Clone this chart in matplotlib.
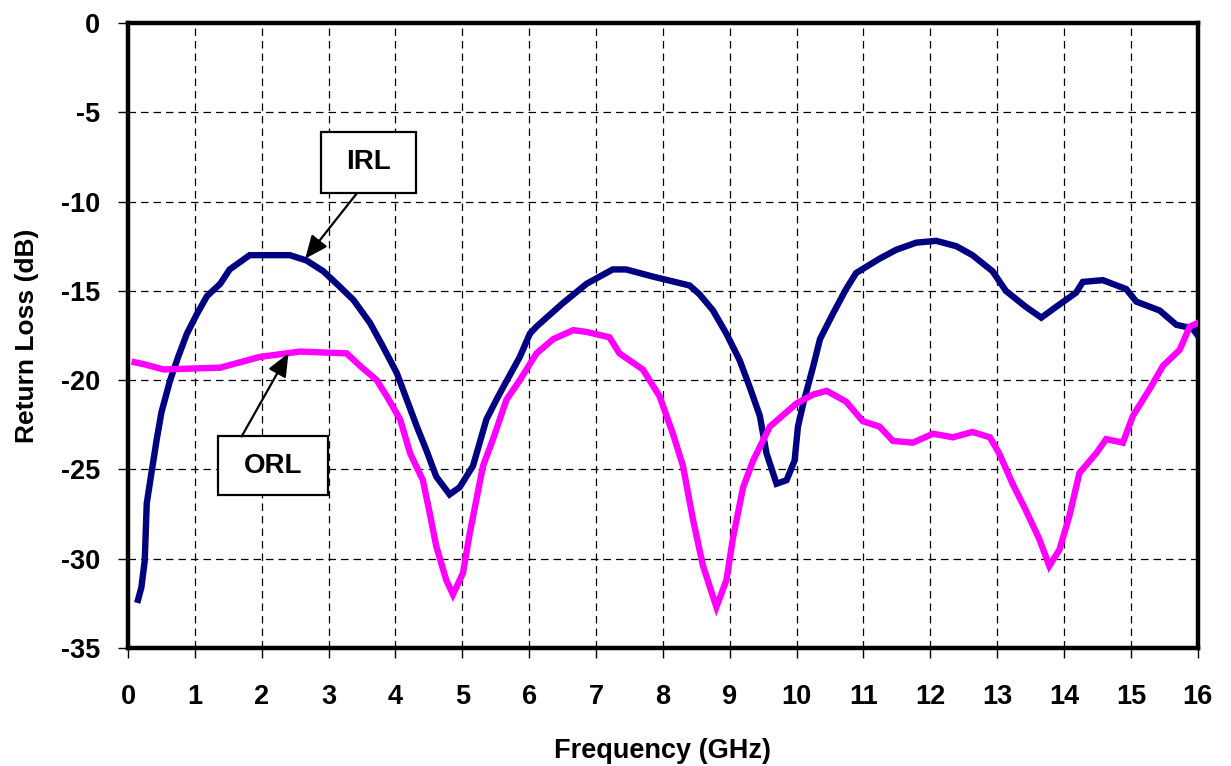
import matplotlib
matplotlib.use("Agg")
import matplotlib.pyplot as plt
from matplotlib.patches import Rectangle

# ---- data ----
irl_freq = [0.15, 0.2, 0.25, 0.28, 0.35, 0.43, 0.5, 0.63, 0.75, 0.88, 1.03, 1.18, 1.38, 1.52,
            1.82, 2.42, 2.67, 2.92, 3.12, 3.37, 3.62, 3.81, 4.02, 4.17, 4.32, 4.46, 4.61,
            4.81, 4.96, 5.16, 5.36, 5.51, 5.61, 5.86, 6.01, 6.11, 6.5, 6.86, 7.25, 7.45,
            7.85, 8.4, 8.55, 8.75, 8.95, 9.15, 9.3, 9.45, 9.55, 9.7, 9.85, 9.97, 10.02,
            10.1, 10.25, 10.35, 10.54, 10.74, 10.89, 11.24, 11.49, 11.79, 12.09, 12.39,
            12.63, 12.93, 13.13, 13.43, 13.66, 13.88, 14.18, 14.28, 14.58, 14.93, 15.08,
            15.43, 15.68, 15.92, 16.0]
irl_db = [-32.3, -31.6, -30.1, -26.9, -25.2, -23.3, -21.8, -20.0, -18.7, -17.4, -16.3, -15.3,
          -14.6, -13.8, -13.0, -13.0, -13.3, -13.9, -14.6, -15.5, -16.8, -18.1, -19.6, -21.1,
          -22.6, -23.9, -25.4, -26.4, -26.0, -24.8, -22.2, -21.1, -20.4, -18.7, -17.4, -17.0,
          -15.7, -14.6, -13.8, -13.8, -14.2, -14.7, -15.2, -16.1, -17.4, -18.9, -20.4, -22.0,
          -24.1, -25.8, -25.6, -24.5, -22.6, -21.3, -19.2, -17.7, -16.3, -14.9, -14.0, -13.2,
          -12.7, -12.3, -12.2, -12.5, -13.0, -13.9, -15.0, -15.9, -16.5, -15.9, -15.1, -14.5,
          -14.4, -14.9, -15.6, -16.1, -16.9, -17.1, -17.5]

orl_freq = [0.1, 0.23, 0.53, 1.38, 1.97, 2.57, 3.27, 3.47, 3.72, 3.87, 4.07, 4.22, 4.41, 4.51,
            4.61, 4.76, 4.86, 5.01, 5.11, 5.21, 5.31, 5.46, 5.66, 5.86, 6.11, 6.36, 6.66,
            6.86, 7.2, 7.35, 7.7, 7.95, 8.15, 8.3, 8.45, 8.6, 8.8, 8.95, 9.05, 9.2, 9.35,
            9.6, 10.0, 10.25, 10.45, 10.74, 10.99, 11.24, 11.44, 11.74, 12.04, 12.34, 12.63,
            12.89, 13.03, 13.23, 13.43, 13.63, 13.78, 13.93, 14.08, 14.23, 14.48, 14.63,
            14.88, 15.03, 15.28, 15.48, 15.73, 15.88, 16.0]
orl_db = [-19.0, -19.1, -19.4, -19.3, -18.7, -18.4, -18.5, -19.2, -20.0, -20.9, -22.2, -24.1,
          -25.6, -27.4, -29.3, -31.2, -32.0, -30.8, -28.6, -26.7, -24.8, -23.3, -21.1, -20.0,
          -18.5, -17.7, -17.2, -17.3, -17.6, -18.5, -19.4, -20.9, -23.0, -24.8, -27.8, -30.4,
          -32.7, -31.2, -28.8, -26.0, -24.5, -22.6, -21.3, -20.8, -20.6, -21.2, -22.3, -22.6,
          -23.4, -23.5, -23.0, -23.2, -22.9, -23.2, -24.1, -25.8, -27.3, -28.9, -30.4, -29.5,
          -27.6, -25.2, -24.1, -23.3, -23.5, -22.0, -20.5, -19.2, -18.3, -17.0, -16.8]

x_ticks = list(range(0, 17))
y_ticks = [0, -5, -10, -15, -20, -25, -30, -35]

FONT = ["Liberation Sans", "DejaVu Sans"]
plt.rcParams['font.family'] = FONT
plt.rcParams['font.weight'] = 'bold'

fig = plt.figure(figsize=(12.31, 7.66), dpi=100)
ax = fig.add_axes([0.104, 0.154, 0.869, 0.816])

ax.plot(irl_freq, irl_db, color="#000080", lw=4.6, solid_joinstyle='miter', zorder=3)
ax.plot(orl_freq, orl_db, color="#FF00FF", lw=4.6, solid_joinstyle='miter', zorder=3)

ax.set_xlim(0, 16)
ax.set_ylim(-35, 0)
ax.set_xticks(x_ticks)
ax.set_yticks(y_ticks)
ax.set_xticklabels([str(t) for t in x_ticks], fontsize=19.5, fontweight='bold')
ax.set_yticklabels([str(t) for t in y_ticks], fontsize=19.5, fontweight='bold')
ax.tick_params(axis='both', direction='out', length=7, width=1, color='black')
ax.tick_params(axis='x', pad=19)
ax.tick_params(axis='y', pad=13)

ax.grid(True, color='black', linestyle=(0, (6, 4)), linewidth=0.9, zorder=1)
ax.set_axisbelow(True)
for s in ax.spines.values():
    s.set_linewidth(3.2)
    s.set_color('black')

ax.set_xlabel("Frequency (GHz)", fontsize=19.5, fontweight='bold', labelpad=20)
ax.set_ylabel("Return Loss (dB)", fontsize=19, fontweight='bold', labelpad=16)

# annotation boxes
ax.add_patch(Rectangle((2.88, -9.5), 1.43, 3.4, facecolor='white', edgecolor='black',
                       lw=1.6, zorder=5))
ax.text(3.595, -7.8, "IRL", ha='center', va='center', fontsize=20, fontweight='bold', zorder=6)
ax.annotate("", xy=(2.65, -13.2), xytext=(3.42, -9.55),
            arrowprops=dict(arrowstyle='-|>,head_length=1.4,head_width=0.6', color='black',
                            lw=1.6, shrinkA=0, shrinkB=0), zorder=6)

ax.add_patch(Rectangle((1.35, -26.45), 1.64, 3.3, facecolor='white', edgecolor='black',
                       lw=1.6, zorder=5))
ax.text(2.17, -24.8, "ORL", ha='center', va='center', fontsize=20, fontweight='bold', zorder=6)
ax.annotate("", xy=(2.4, -18.5), xytext=(1.7, -23.15),
            arrowprops=dict(arrowstyle='-|>,head_length=1.4,head_width=0.6', color='black',
                            lw=1.6, shrinkA=0, shrinkB=0), zorder=6)

fig.savefig("out.png", dpi=100)
